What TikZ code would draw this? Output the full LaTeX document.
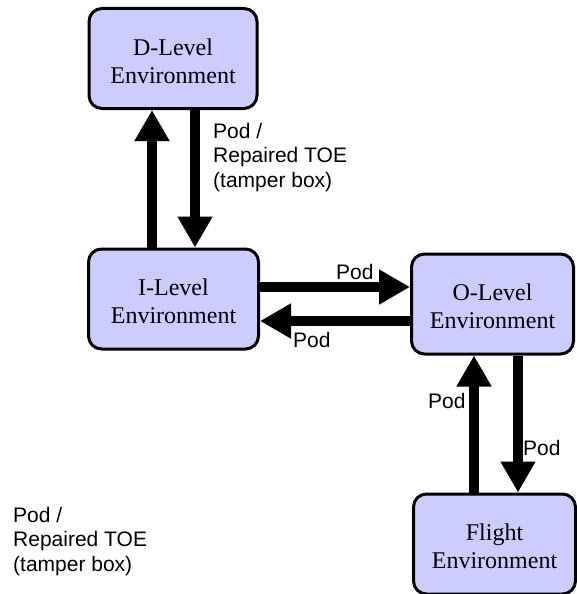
\documentclass[tikz,border=0pt]{standalone}
\usepackage{fontspec}
\usetikzlibrary{arrows.meta}
\newfontfamily\boxfont{Liberation Serif}
\newfontfamily\lblfont{Liberation Sans}
\newcommand\fstrut{\rule{0pt}{22pt}}
\definecolor{boxfill}{RGB}{204,204,255}
\tikzset{
  envbox/.style={draw=black, line width=3pt, fill=boxfill, rounded corners=13pt,
    inner sep=0pt, minimum height=100pt, align=center,
    font=\boxfont\fontsize{24}{28}\selectfont},
  arr/.style={line width=10pt, -{Triangle[width=33pt,length=31pt]}},
  lbl/.style={inner sep=0pt, align=left, font=\lblfont\fontsize{21}{24.5}\selectfont},
}
\begin{document}
\begin{tikzpicture}[x=1pt,y=-1pt]
\useasboundingbox (0,0) rectangle (577,594);
\node[envbox, minimum width=168pt] (D) at (173,58.5) {\fstrut D-Level\\Environment};
\node[envbox, minimum width=170pt] (I) at (173.5,299) {\fstrut I-Level\\Environment};
\node[envbox, minimum width=162pt] (O) at (492.5,304) {\fstrut O-Level\\Environment};
\node[envbox, minimum width=162pt] (F) at (494.5,544) {\fstrut Flight\\Environment};

\coordinate (cA) at (152,0);
\coordinate (cB) at (195,0);
\coordinate (cC) at (0,287);
\coordinate (cD) at (0,321);
\coordinate (cE) at (474,0);
\coordinate (cF) at (518,0);

\draw[arr] (I.north -| cA) -- (D.south -| cA);
\draw[arr] (D.south -| cB) -- (I.north -| cB);
\draw[arr] (I.east |- cC) -- (O.west |- cC);
\draw[arr] (O.west |- cD) -- (I.east |- cD);
\draw[arr] (F.north -| cE) -- (O.south -| cE);
\draw[arr] (O.south -| cF) -- (F.north -| cF);

\node[lbl, anchor=north west] (t1) at (213,122.7) {Pod /\\Repaired TOE\\(tamper box)};
\node[lbl, anchor=north west] (t2) at (13,506.7) {Pod /\\Repaired TOE\\(tamper box)};
\node[lbl, anchor=base west] (p1) at (336,279) {Pod};
\node[lbl, anchor=base west] (p2) at (293,347) {Pod};
\node[lbl, anchor=base west] (p3) at (428,408) {Pod};
\node[lbl, anchor=base west] (p4) at (523,455) {Pod};
\end{tikzpicture}
\end{document}
